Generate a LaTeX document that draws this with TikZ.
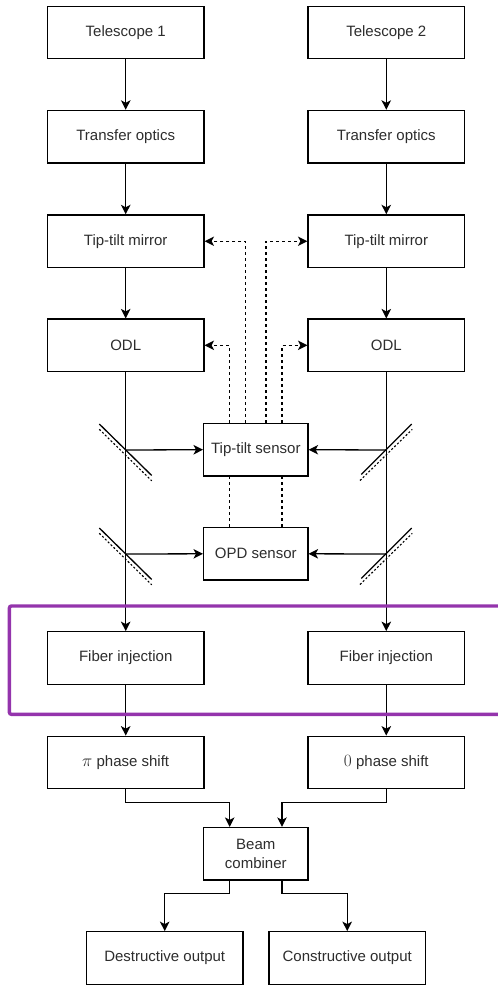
\documentclass[tikz,border=0pt]{standalone}
\usepackage{fontspec}
\setmainfont{Liberation Sans}
\usetikzlibrary{arrows.meta,calc}
\definecolor{txt}{RGB}{45,45,45}
\definecolor{frame}{RGB}{148,52,172}
\newcommand{\bigmath}[1]{{\fontsize{19}{19}\selectfont$#1$}}
\tikzset{
  box/.style={draw=black,line width=1.3pt,minimum width=156.5pt,minimum height=52.5pt,inner sep=0pt,
    font=\fontsize{15}{19}\selectfont,text=txt,fill=white,align=center},
  sbox/.style={box,minimum width=104.3pt},
  arr/.style={line width=1.3pt,-{Stealth[length=9.5pt,width=9.5pt,inset=2.5pt]}},
  darr/.style={line width=1.2pt,dash pattern=on 3pt off 3pt,-{Stealth[length=9.5pt,width=9.5pt,inset=2.5pt,line width=0pt]}},
  dlink/.style={line width=1.2pt,dash pattern=on 3pt off 3pt},
  mirror/.style={line width=1.3pt},
  mirrorback/.style={line width=1.1pt,dash pattern=on 2pt off 2pt},
}
\begin{document}
\begin{tikzpicture}[x=1pt,y=1pt]
\useasboundingbox (0,0) rectangle (498,-986);
% boxes
\node[box] (t1) at (125.7,-32.5) {Telescope 1};
\node[box] (t2) at (386.3,-32.5) {Telescope 2};
\node[box] (to1) at (125.7,-136.7) {Transfer optics};
\node[box] (to2) at (386.3,-136.7) {Transfer optics};
\node[box] (ttm1) at (125.7,-241.2) {Tip-tilt mirror};
\node[box] (ttm2) at (386.3,-241.2) {Tip-tilt mirror};
\node[box] (odl1) at (125.7,-345.3) {ODL};
\node[box] (odl2) at (386.3,-345.3) {ODL};
\node[sbox] (tts) at (255.8,-449.7) {Tip-tilt sensor};
\node[sbox] (opd) at (255.8,-553.8) {OPD sensor};
\node[box] (fi1) at (125.7,-658) {Fiber injection};
\node[box] (fi2) at (386.3,-658) {Fiber injection};
\node[box] (ps1) at (125.7,-762.5) {\bigmath{\pi} phase shift};
\node[box] (ps2) at (386.3,-762.5) {\bigmath{0} phase shift};
\node[sbox] (bc) at (255.8,-853.8) {Beam\\combiner};
\node[box] (dout) at (164.7,-958) {Destructive output};
\node[box] (cout) at (347.2,-958) {Constructive output};
% beam splitter points
\coordinate (bs1) at (125.7,-450);
\coordinate (bs2) at (386.3,-450);
\coordinate (bs3) at (125.7,-554);
\coordinate (bs4) at (386.3,-554);
% main chains
\foreach \a/\b in {t1/to1,to1/ttm1,ttm1/odl1,t2/to2,to2/ttm2,ttm2/odl2,fi1/ps1,fi2/ps2}
  \draw[arr] (\a) -- (\b);
\draw[arr] (odl1) -- (fi1);
\draw[arr] (odl2) -- (fi2);
% splitters
\foreach \p in {bs1,bs3}{
  \draw[mirror] ($(\p)+(-26.4,26)$) -- ($(\p)+(26,-25.5)$);
  \draw[mirrorback] ($(\p)+(-26.4,20.7)$) -- ($(\p)+(26,-30.8)$);
}
\foreach \p in {bs2,bs4}{
  \draw[mirror] ($(\p)+(-25,-24.5)$) -- ($(\p)+(25.4,26)$);
  \draw[mirrorback] ($(\p)+(-26.3,-30.5)$) -- ($(\p)+(26,20.7)$);
}
\draw[arr] (bs1) -- (tts.west);
\draw[arr] (bs2) -- (tts.east);
\draw[arr] (bs3) -- (opd.west);
\draw[arr] (bs4) -- (opd.east);
% dashed control lines
\draw[darr] ([xshift=-10.1pt]tts.north) |- (ttm1.east);
\draw[darr] ([xshift=10.2pt]tts.north) |- (ttm2.west);
\draw[darr] ([xshift=-26.1pt]tts.north) |- (odl1.east);
\draw[darr] ([xshift=26.2pt]tts.north) |- (odl2.west);
\draw[dlink] ([xshift=-26.1pt]opd.north) -- ([xshift=-26.1pt]tts.south);
\draw[dlink] ([xshift=26.2pt]opd.north) -- ([xshift=26.2pt]tts.south);
% combiner
\draw[arr] (ps1.south) -- ++(0,-13) -| ([xshift=-26.1pt]bc.north);
\draw[arr] (ps2.south) -- ++(0,-13) -| ([xshift=26.2pt]bc.north);
\draw[arr] ([xshift=-26.1pt]bc.south) -- ++(0,-12.7) -| (dout.north);
\draw[arr] ([xshift=26.2pt]bc.south) -- ++(0,-12.7) -| (cout.north);
% purple frame
\draw[frame,line width=3.4pt,rounded corners=2pt] (9.4,-606) rectangle (515,-714.3);
\end{tikzpicture}
\end{document}
